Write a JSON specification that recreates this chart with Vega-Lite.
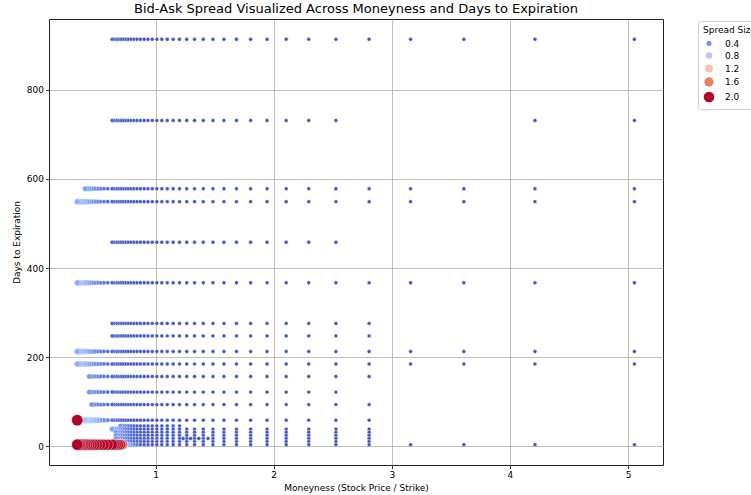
{
"$schema": "https://vega.github.io/schema/vega-lite/v6.json",
"width": 614, "height": 446,
"autosize": {"type": "none"},
"padding": {"left": 49, "top": 19, "right": 88, "bottom": 30},
"background": "white",
"config": {"font": "DejaVu Sans", "view": {"stroke": "#222222", "strokeWidth": 1}},
"title": {"text": "Bid-Ask Spread Visualized Across Moneyness and Days to Expiration", "fontSize": 13, "fontWeight": "normal", "color": "#000000", "font": "DejaVu Sans", "anchor": "middle", "frame": "group", "baseline": "bottom", "offset": 5, "dy": 15},
"data": {"values": [
{"d":913,"m":5.054,"s":0.05},{"d":913,"m":4.212,"s":0.05},{"d":913,"m":3.61,"s":0.05},{"d":913,"m":3.159,"s":0.05},{"d":913,"m":2.808,"s":0.05},{"d":913,"m":2.527,"s":0.05},{"d":913,"m":2.297,"s":0.05},{"d":913,"m":2.106,"s":0.05},{"d":913,"m":1.944,"s":0.05},{"d":913,"m":1.805,"s":0.05},{"d":913,"m":1.685,"s":0.05},{"d":913,"m":1.579,"s":0.05},{"d":913,"m":1.486,"s":0.05},{"d":913,"m":1.404,"s":0.05},{"d":913,"m":1.33,"s":0.05},{"d":913,"m":1.264,"s":0.05},{"d":913,"m":1.203,"s":0.05},{"d":913,"m":1.149,"s":0.05},{"d":913,"m":1.099,"s":0.05},{"d":913,"m":1.053,"s":0.05},{"d":913,"m":1.011,"s":0.05},{"d":913,"m":0.972,"s":0.05},{"d":913,"m":0.936,"s":0.05},{"d":913,"m":0.903,"s":0.05},{"d":913,"m":0.871,"s":0.05},{"d":913,"m":0.842,"s":0.05},{"d":913,"m":0.815,"s":0.05},{"d":913,"m":0.79,"s":0.05},{"d":913,"m":0.766,"s":0.05},{"d":913,"m":0.743,"s":0.05},{"d":913,"m":0.722,"s":0.05},{"d":913,"m":0.702,"s":0.05},{"d":913,"m":0.683,"s":0.05},{"d":913,"m":0.665,"s":0.05},{"d":913,"m":0.648,"s":0.1},{"d":913,"m":0.632,"s":0.1},
{"d":731,"m":5.054,"s":0.05},{"d":731,"m":4.212,"s":0.05},{"d":731,"m":2.527,"s":0.05},{"d":731,"m":2.297,"s":0.05},{"d":731,"m":2.106,"s":0.05},{"d":731,"m":1.944,"s":0.05},{"d":731,"m":1.805,"s":0.05},{"d":731,"m":1.685,"s":0.05},{"d":731,"m":1.579,"s":0.05},{"d":731,"m":1.486,"s":0.05},{"d":731,"m":1.404,"s":0.05},{"d":731,"m":1.33,"s":0.05},{"d":731,"m":1.264,"s":0.05},{"d":731,"m":1.203,"s":0.05},{"d":731,"m":1.149,"s":0.05},{"d":731,"m":1.099,"s":0.05},{"d":731,"m":1.053,"s":0.05},{"d":731,"m":1.011,"s":0.05},{"d":731,"m":0.972,"s":0.05},{"d":731,"m":0.936,"s":0.05},{"d":731,"m":0.903,"s":0.05},{"d":731,"m":0.871,"s":0.05},{"d":731,"m":0.842,"s":0.05},{"d":731,"m":0.815,"s":0.05},{"d":731,"m":0.79,"s":0.05},{"d":731,"m":0.766,"s":0.05},{"d":731,"m":0.743,"s":0.05},{"d":731,"m":0.722,"s":0.05},{"d":731,"m":0.702,"s":0.05},{"d":731,"m":0.683,"s":0.05},{"d":731,"m":0.665,"s":0.05},{"d":731,"m":0.648,"s":0.1},{"d":731,"m":0.632,"s":0.1},
{"d":578,"m":5.054,"s":0.05},{"d":578,"m":4.212,"s":0.05},{"d":578,"m":3.61,"s":0.05},{"d":578,"m":3.159,"s":0.05},{"d":578,"m":2.808,"s":0.05},{"d":578,"m":2.527,"s":0.05},{"d":578,"m":2.297,"s":0.05},{"d":578,"m":2.106,"s":0.05},{"d":578,"m":1.944,"s":0.05},{"d":578,"m":1.805,"s":0.05},{"d":578,"m":1.685,"s":0.05},{"d":578,"m":1.579,"s":0.05},{"d":578,"m":1.486,"s":0.05},{"d":578,"m":1.404,"s":0.05},{"d":578,"m":1.33,"s":0.05},{"d":578,"m":1.264,"s":0.05},{"d":578,"m":1.203,"s":0.05},{"d":578,"m":1.149,"s":0.05},{"d":578,"m":1.099,"s":0.05},{"d":578,"m":1.053,"s":0.05},{"d":578,"m":1.011,"s":0.05},{"d":578,"m":0.972,"s":0.05},{"d":578,"m":0.936,"s":0.05},{"d":578,"m":0.903,"s":0.05},{"d":578,"m":0.871,"s":0.05},{"d":578,"m":0.842,"s":0.05},{"d":578,"m":0.815,"s":0.05},{"d":578,"m":0.79,"s":0.05},{"d":578,"m":0.766,"s":0.05},{"d":578,"m":0.743,"s":0.05},{"d":578,"m":0.722,"s":0.05},{"d":578,"m":0.702,"s":0.05},{"d":578,"m":0.683,"s":0.05},{"d":578,"m":0.665,"s":0.05},{"d":578,"m":0.648,"s":0.1},{"d":578,"m":0.632,"s":0.1},{"d":578,"m":0.595,"s":0.15},{"d":578,"m":0.562,"s":0.2},{"d":578,"m":0.532,"s":0.25},{"d":578,"m":0.505,"s":0.3},{"d":578,"m":0.481,"s":0.35},{"d":578,"m":0.459,"s":0.4},{"d":578,"m":0.439,"s":0.45},{"d":578,"m":0.421,"s":0.5},{"d":578,"m":0.404,"s":0.5},
{"d":549,"m":5.054,"s":0.05},{"d":549,"m":4.212,"s":0.05},{"d":549,"m":3.61,"s":0.05},{"d":549,"m":3.159,"s":0.05},{"d":549,"m":2.808,"s":0.05},{"d":549,"m":2.527,"s":0.05},{"d":549,"m":2.297,"s":0.05},{"d":549,"m":2.106,"s":0.05},{"d":549,"m":1.944,"s":0.05},{"d":549,"m":1.805,"s":0.05},{"d":549,"m":1.685,"s":0.05},{"d":549,"m":1.579,"s":0.05},{"d":549,"m":1.486,"s":0.05},{"d":549,"m":1.404,"s":0.05},{"d":549,"m":1.33,"s":0.05},{"d":549,"m":1.264,"s":0.05},{"d":549,"m":1.203,"s":0.05},{"d":549,"m":1.149,"s":0.05},{"d":549,"m":1.099,"s":0.05},{"d":549,"m":1.053,"s":0.05},{"d":549,"m":1.011,"s":0.05},{"d":549,"m":0.972,"s":0.05},{"d":549,"m":0.936,"s":0.05},{"d":549,"m":0.903,"s":0.05},{"d":549,"m":0.871,"s":0.05},{"d":549,"m":0.842,"s":0.05},{"d":549,"m":0.815,"s":0.05},{"d":549,"m":0.79,"s":0.05},{"d":549,"m":0.766,"s":0.05},{"d":549,"m":0.743,"s":0.05},{"d":549,"m":0.722,"s":0.05},{"d":549,"m":0.702,"s":0.05},{"d":549,"m":0.683,"s":0.05},{"d":549,"m":0.665,"s":0.05},{"d":549,"m":0.648,"s":0.1},{"d":549,"m":0.632,"s":0.1},{"d":549,"m":0.595,"s":0.15},{"d":549,"m":0.562,"s":0.2},{"d":549,"m":0.532,"s":0.25},{"d":549,"m":0.505,"s":0.3},{"d":549,"m":0.481,"s":0.35},{"d":549,"m":0.459,"s":0.4},{"d":549,"m":0.439,"s":0.45},{"d":549,"m":0.421,"s":0.5},{"d":549,"m":0.404,"s":0.5},{"d":549,"m":0.389,"s":0.55},{"d":549,"m":0.374,"s":0.55},{"d":549,"m":0.361,"s":0.6},{"d":549,"m":0.349,"s":0.6},{"d":549,"m":0.337,"s":0.6},
{"d":458,"m":2.527,"s":0.05},{"d":458,"m":2.297,"s":0.05},{"d":458,"m":2.106,"s":0.05},{"d":458,"m":1.944,"s":0.05},{"d":458,"m":1.805,"s":0.05},{"d":458,"m":1.685,"s":0.05},{"d":458,"m":1.579,"s":0.05},{"d":458,"m":1.486,"s":0.05},{"d":458,"m":1.404,"s":0.05},{"d":458,"m":1.33,"s":0.05},{"d":458,"m":1.264,"s":0.05},{"d":458,"m":1.203,"s":0.05},{"d":458,"m":1.149,"s":0.05},{"d":458,"m":1.099,"s":0.05},{"d":458,"m":1.053,"s":0.05},{"d":458,"m":1.011,"s":0.05},{"d":458,"m":0.972,"s":0.05},{"d":458,"m":0.936,"s":0.05},{"d":458,"m":0.903,"s":0.05},{"d":458,"m":0.871,"s":0.05},{"d":458,"m":0.842,"s":0.05},{"d":458,"m":0.815,"s":0.05},{"d":458,"m":0.79,"s":0.05},{"d":458,"m":0.766,"s":0.05},{"d":458,"m":0.743,"s":0.05},{"d":458,"m":0.722,"s":0.05},{"d":458,"m":0.702,"s":0.05},{"d":458,"m":0.683,"s":0.05},{"d":458,"m":0.665,"s":0.05},{"d":458,"m":0.648,"s":0.1},{"d":458,"m":0.632,"s":0.1},
{"d":367,"m":5.054,"s":0.05},{"d":367,"m":4.212,"s":0.05},{"d":367,"m":3.61,"s":0.05},{"d":367,"m":3.159,"s":0.05},{"d":367,"m":2.808,"s":0.05},{"d":367,"m":2.527,"s":0.05},{"d":367,"m":2.297,"s":0.05},{"d":367,"m":2.106,"s":0.05},{"d":367,"m":1.944,"s":0.05},{"d":367,"m":1.805,"s":0.05},{"d":367,"m":1.685,"s":0.05},{"d":367,"m":1.579,"s":0.05},{"d":367,"m":1.486,"s":0.05},{"d":367,"m":1.404,"s":0.05},{"d":367,"m":1.33,"s":0.05},{"d":367,"m":1.264,"s":0.05},{"d":367,"m":1.203,"s":0.05},{"d":367,"m":1.149,"s":0.05},{"d":367,"m":1.099,"s":0.05},{"d":367,"m":1.053,"s":0.05},{"d":367,"m":1.011,"s":0.05},{"d":367,"m":0.972,"s":0.05},{"d":367,"m":0.936,"s":0.05},{"d":367,"m":0.903,"s":0.05},{"d":367,"m":0.871,"s":0.05},{"d":367,"m":0.842,"s":0.05},{"d":367,"m":0.815,"s":0.05},{"d":367,"m":0.79,"s":0.05},{"d":367,"m":0.766,"s":0.05},{"d":367,"m":0.743,"s":0.05},{"d":367,"m":0.722,"s":0.05},{"d":367,"m":0.702,"s":0.05},{"d":367,"m":0.683,"s":0.05},{"d":367,"m":0.665,"s":0.05},{"d":367,"m":0.648,"s":0.1},{"d":367,"m":0.632,"s":0.1},{"d":367,"m":0.595,"s":0.15},{"d":367,"m":0.562,"s":0.2},{"d":367,"m":0.532,"s":0.25},{"d":367,"m":0.505,"s":0.3},{"d":367,"m":0.481,"s":0.35},{"d":367,"m":0.459,"s":0.4},{"d":367,"m":0.439,"s":0.45},{"d":367,"m":0.421,"s":0.5},{"d":367,"m":0.404,"s":0.5},{"d":367,"m":0.389,"s":0.55},{"d":367,"m":0.374,"s":0.55},{"d":367,"m":0.361,"s":0.6},{"d":367,"m":0.349,"s":0.6},{"d":367,"m":0.337,"s":0.6},
{"d":276,"m":2.808,"s":0.05},{"d":276,"m":2.527,"s":0.05},{"d":276,"m":2.297,"s":0.05},{"d":276,"m":2.106,"s":0.05},{"d":276,"m":1.944,"s":0.05},{"d":276,"m":1.805,"s":0.05},{"d":276,"m":1.685,"s":0.05},{"d":276,"m":1.579,"s":0.05},{"d":276,"m":1.486,"s":0.05},{"d":276,"m":1.404,"s":0.05},{"d":276,"m":1.33,"s":0.05},{"d":276,"m":1.264,"s":0.05},{"d":276,"m":1.203,"s":0.05},{"d":276,"m":1.149,"s":0.05},{"d":276,"m":1.099,"s":0.05},{"d":276,"m":1.053,"s":0.05},{"d":276,"m":1.011,"s":0.05},{"d":276,"m":0.972,"s":0.05},{"d":276,"m":0.936,"s":0.05},{"d":276,"m":0.903,"s":0.05},{"d":276,"m":0.871,"s":0.05},{"d":276,"m":0.842,"s":0.05},{"d":276,"m":0.815,"s":0.05},{"d":276,"m":0.79,"s":0.05},{"d":276,"m":0.766,"s":0.05},{"d":276,"m":0.743,"s":0.05},{"d":276,"m":0.722,"s":0.05},{"d":276,"m":0.702,"s":0.05},{"d":276,"m":0.683,"s":0.05},{"d":276,"m":0.665,"s":0.05},{"d":276,"m":0.648,"s":0.1},{"d":276,"m":0.632,"s":0.1},
{"d":248,"m":2.808,"s":0.05},{"d":248,"m":2.527,"s":0.05},{"d":248,"m":2.297,"s":0.05},{"d":248,"m":2.106,"s":0.05},{"d":248,"m":1.944,"s":0.05},{"d":248,"m":1.805,"s":0.05},{"d":248,"m":1.685,"s":0.05},{"d":248,"m":1.579,"s":0.05},{"d":248,"m":1.486,"s":0.05},{"d":248,"m":1.404,"s":0.05},{"d":248,"m":1.33,"s":0.05},{"d":248,"m":1.264,"s":0.05},{"d":248,"m":1.203,"s":0.05},{"d":248,"m":1.149,"s":0.05},{"d":248,"m":1.099,"s":0.05},{"d":248,"m":1.053,"s":0.05},{"d":248,"m":1.011,"s":0.05},{"d":248,"m":0.972,"s":0.05},{"d":248,"m":0.936,"s":0.05},{"d":248,"m":0.903,"s":0.05},{"d":248,"m":0.871,"s":0.05},{"d":248,"m":0.842,"s":0.05},{"d":248,"m":0.815,"s":0.05},{"d":248,"m":0.79,"s":0.05},{"d":248,"m":0.766,"s":0.05},{"d":248,"m":0.743,"s":0.05},{"d":248,"m":0.722,"s":0.05},{"d":248,"m":0.702,"s":0.05},{"d":248,"m":0.683,"s":0.05},{"d":248,"m":0.665,"s":0.05},{"d":248,"m":0.648,"s":0.1},{"d":248,"m":0.632,"s":0.1},
{"d":213,"m":5.054,"s":0.05},{"d":213,"m":4.212,"s":0.05},{"d":213,"m":3.61,"s":0.05},{"d":213,"m":3.159,"s":0.05},{"d":213,"m":2.808,"s":0.05},{"d":213,"m":2.527,"s":0.05},{"d":213,"m":2.297,"s":0.05},{"d":213,"m":2.106,"s":0.05},{"d":213,"m":1.944,"s":0.05},{"d":213,"m":1.805,"s":0.05},{"d":213,"m":1.685,"s":0.05},{"d":213,"m":1.579,"s":0.05},{"d":213,"m":1.486,"s":0.05},{"d":213,"m":1.404,"s":0.05},{"d":213,"m":1.33,"s":0.05},{"d":213,"m":1.264,"s":0.05},{"d":213,"m":1.203,"s":0.05},{"d":213,"m":1.149,"s":0.05},{"d":213,"m":1.099,"s":0.05},{"d":213,"m":1.053,"s":0.05},{"d":213,"m":1.011,"s":0.05},{"d":213,"m":0.972,"s":0.05},{"d":213,"m":0.936,"s":0.05},{"d":213,"m":0.903,"s":0.05},{"d":213,"m":0.871,"s":0.05},{"d":213,"m":0.842,"s":0.05},{"d":213,"m":0.815,"s":0.05},{"d":213,"m":0.79,"s":0.05},{"d":213,"m":0.766,"s":0.05},{"d":213,"m":0.743,"s":0.05},{"d":213,"m":0.722,"s":0.05},{"d":213,"m":0.702,"s":0.05},{"d":213,"m":0.683,"s":0.05},{"d":213,"m":0.665,"s":0.05},{"d":213,"m":0.648,"s":0.1},{"d":213,"m":0.632,"s":0.1},{"d":213,"m":0.595,"s":0.15},{"d":213,"m":0.562,"s":0.2},{"d":213,"m":0.532,"s":0.25},{"d":213,"m":0.505,"s":0.3},{"d":213,"m":0.481,"s":0.35},{"d":213,"m":0.459,"s":0.4},{"d":213,"m":0.439,"s":0.45},{"d":213,"m":0.421,"s":0.5},{"d":213,"m":0.404,"s":0.5},{"d":213,"m":0.389,"s":0.55},{"d":213,"m":0.374,"s":0.55},{"d":213,"m":0.361,"s":0.6},{"d":213,"m":0.349,"s":0.6},{"d":213,"m":0.337,"s":0.6},
{"d":185,"m":5.054,"s":0.05},{"d":185,"m":4.212,"s":0.05},{"d":185,"m":3.61,"s":0.05},{"d":185,"m":3.159,"s":0.05},{"d":185,"m":2.808,"s":0.05},{"d":185,"m":2.527,"s":0.05},{"d":185,"m":2.297,"s":0.05},{"d":185,"m":2.106,"s":0.05},{"d":185,"m":1.944,"s":0.05},{"d":185,"m":1.805,"s":0.05},{"d":185,"m":1.685,"s":0.05},{"d":185,"m":1.579,"s":0.05},{"d":185,"m":1.486,"s":0.05},{"d":185,"m":1.404,"s":0.05},{"d":185,"m":1.33,"s":0.05},{"d":185,"m":1.264,"s":0.05},{"d":185,"m":1.203,"s":0.05},{"d":185,"m":1.149,"s":0.05},{"d":185,"m":1.099,"s":0.05},{"d":185,"m":1.053,"s":0.05},{"d":185,"m":1.011,"s":0.05},{"d":185,"m":0.972,"s":0.05},{"d":185,"m":0.936,"s":0.05},{"d":185,"m":0.903,"s":0.05},{"d":185,"m":0.871,"s":0.05},{"d":185,"m":0.842,"s":0.05},{"d":185,"m":0.815,"s":0.05},{"d":185,"m":0.79,"s":0.05},{"d":185,"m":0.766,"s":0.05},{"d":185,"m":0.743,"s":0.05},{"d":185,"m":0.722,"s":0.05},{"d":185,"m":0.702,"s":0.05},{"d":185,"m":0.683,"s":0.05},{"d":185,"m":0.665,"s":0.05},{"d":185,"m":0.648,"s":0.1},{"d":185,"m":0.632,"s":0.1},{"d":185,"m":0.595,"s":0.15},{"d":185,"m":0.562,"s":0.2},{"d":185,"m":0.532,"s":0.25},{"d":185,"m":0.505,"s":0.3},{"d":185,"m":0.481,"s":0.35},{"d":185,"m":0.459,"s":0.4},{"d":185,"m":0.439,"s":0.45},{"d":185,"m":0.421,"s":0.5},{"d":185,"m":0.404,"s":0.5},{"d":185,"m":0.389,"s":0.55},{"d":185,"m":0.374,"s":0.55},{"d":185,"m":0.361,"s":0.6},{"d":185,"m":0.349,"s":0.6},{"d":185,"m":0.337,"s":0.6},
{"d":157,"m":2.808,"s":0.05},{"d":157,"m":2.527,"s":0.05},{"d":157,"m":2.297,"s":0.05},{"d":157,"m":2.106,"s":0.05},{"d":157,"m":1.944,"s":0.05},{"d":157,"m":1.805,"s":0.05},{"d":157,"m":1.685,"s":0.05},{"d":157,"m":1.579,"s":0.05},{"d":157,"m":1.486,"s":0.05},{"d":157,"m":1.404,"s":0.05},{"d":157,"m":1.33,"s":0.05},{"d":157,"m":1.264,"s":0.05},{"d":157,"m":1.203,"s":0.05},{"d":157,"m":1.149,"s":0.05},{"d":157,"m":1.099,"s":0.05},{"d":157,"m":1.053,"s":0.05},{"d":157,"m":1.011,"s":0.05},{"d":157,"m":0.972,"s":0.05},{"d":157,"m":0.936,"s":0.05},{"d":157,"m":0.903,"s":0.05},{"d":157,"m":0.871,"s":0.05},{"d":157,"m":0.842,"s":0.05},{"d":157,"m":0.815,"s":0.05},{"d":157,"m":0.79,"s":0.05},{"d":157,"m":0.766,"s":0.05},{"d":157,"m":0.743,"s":0.05},{"d":157,"m":0.722,"s":0.05},{"d":157,"m":0.702,"s":0.05},{"d":157,"m":0.683,"s":0.05},{"d":157,"m":0.665,"s":0.05},{"d":157,"m":0.648,"s":0.1},{"d":157,"m":0.632,"s":0.1},{"d":157,"m":0.595,"s":0.15},{"d":157,"m":0.562,"s":0.2},{"d":157,"m":0.532,"s":0.25},{"d":157,"m":0.505,"s":0.3},{"d":157,"m":0.481,"s":0.35},{"d":157,"m":0.459,"s":0.4},{"d":157,"m":0.439,"s":0.45},
{"d":122,"m":2.527,"s":0.05},{"d":122,"m":2.297,"s":0.05},{"d":122,"m":2.106,"s":0.05},{"d":122,"m":1.944,"s":0.05},{"d":122,"m":1.805,"s":0.05},{"d":122,"m":1.685,"s":0.05},{"d":122,"m":1.579,"s":0.05},{"d":122,"m":1.486,"s":0.05},{"d":122,"m":1.404,"s":0.05},{"d":122,"m":1.33,"s":0.05},{"d":122,"m":1.264,"s":0.05},{"d":122,"m":1.203,"s":0.05},{"d":122,"m":1.149,"s":0.05},{"d":122,"m":1.099,"s":0.05},{"d":122,"m":1.053,"s":0.05},{"d":122,"m":1.011,"s":0.05},{"d":122,"m":0.972,"s":0.05},{"d":122,"m":0.936,"s":0.05},{"d":122,"m":0.903,"s":0.05},{"d":122,"m":0.871,"s":0.05},{"d":122,"m":0.842,"s":0.05},{"d":122,"m":0.815,"s":0.05},{"d":122,"m":0.79,"s":0.05},{"d":122,"m":0.766,"s":0.05},{"d":122,"m":0.743,"s":0.05},{"d":122,"m":0.722,"s":0.05},{"d":122,"m":0.702,"s":0.05},{"d":122,"m":0.683,"s":0.05},{"d":122,"m":0.665,"s":0.05},{"d":122,"m":0.648,"s":0.1},{"d":122,"m":0.632,"s":0.1},{"d":122,"m":0.595,"s":0.15},{"d":122,"m":0.562,"s":0.2},{"d":122,"m":0.532,"s":0.25},{"d":122,"m":0.505,"s":0.3},{"d":122,"m":0.481,"s":0.35},{"d":122,"m":0.459,"s":0.4},{"d":122,"m":0.439,"s":0.45},
{"d":94,"m":2.808,"s":0.05},{"d":94,"m":2.527,"s":0.05},{"d":94,"m":2.297,"s":0.05},{"d":94,"m":2.106,"s":0.05},{"d":94,"m":1.944,"s":0.05},{"d":94,"m":1.805,"s":0.05},{"d":94,"m":1.685,"s":0.05},{"d":94,"m":1.579,"s":0.05},{"d":94,"m":1.486,"s":0.05},{"d":94,"m":1.404,"s":0.05},{"d":94,"m":1.33,"s":0.05},{"d":94,"m":1.264,"s":0.05},{"d":94,"m":1.203,"s":0.05},{"d":94,"m":1.149,"s":0.05},{"d":94,"m":1.099,"s":0.05},{"d":94,"m":1.053,"s":0.05},{"d":94,"m":1.011,"s":0.05},{"d":94,"m":0.972,"s":0.05},{"d":94,"m":0.936,"s":0.05},{"d":94,"m":0.903,"s":0.05},{"d":94,"m":0.871,"s":0.05},{"d":94,"m":0.842,"s":0.05},{"d":94,"m":0.815,"s":0.05},{"d":94,"m":0.79,"s":0.05},{"d":94,"m":0.766,"s":0.05},{"d":94,"m":0.743,"s":0.05},{"d":94,"m":0.722,"s":0.05},{"d":94,"m":0.702,"s":0.05},{"d":94,"m":0.683,"s":0.05},{"d":94,"m":0.665,"s":0.05},{"d":94,"m":0.648,"s":0.1},{"d":94,"m":0.632,"s":0.1},{"d":94,"m":0.595,"s":0.15},{"d":94,"m":0.562,"s":0.2},{"d":94,"m":0.532,"s":0.25},{"d":94,"m":0.505,"s":0.3},{"d":94,"m":0.481,"s":0.35},{"d":94,"m":0.459,"s":0.4},
{"d":59,"m":2.808,"s":0.05},{"d":59,"m":2.527,"s":0.05},{"d":59,"m":2.297,"s":0.05},{"d":59,"m":2.106,"s":0.05},{"d":59,"m":1.944,"s":0.05},{"d":59,"m":1.805,"s":0.05},{"d":59,"m":1.685,"s":0.05},{"d":59,"m":1.579,"s":0.05},{"d":59,"m":1.486,"s":0.05},{"d":59,"m":1.404,"s":0.05},{"d":59,"m":1.33,"s":0.05},{"d":59,"m":1.264,"s":0.05},{"d":59,"m":1.203,"s":0.05},{"d":59,"m":1.149,"s":0.05},{"d":59,"m":1.099,"s":0.05},{"d":59,"m":1.053,"s":0.05},{"d":59,"m":1.011,"s":0.05},{"d":59,"m":0.972,"s":0.05},{"d":59,"m":0.936,"s":0.05},{"d":59,"m":0.903,"s":0.05},{"d":59,"m":0.871,"s":0.05},{"d":59,"m":0.842,"s":0.05},{"d":59,"m":0.815,"s":0.05},{"d":59,"m":0.79,"s":0.05},{"d":59,"m":0.766,"s":0.05},{"d":59,"m":0.743,"s":0.05},{"d":59,"m":0.722,"s":0.05},{"d":59,"m":0.702,"s":0.05},{"d":59,"m":0.683,"s":0.05},{"d":59,"m":0.665,"s":0.1},{"d":59,"m":0.648,"s":0.15},{"d":59,"m":0.632,"s":0.2},{"d":59,"m":0.595,"s":0.3},{"d":59,"m":0.562,"s":0.4},{"d":59,"m":0.532,"s":0.5},{"d":59,"m":0.505,"s":0.6},{"d":59,"m":0.481,"s":0.65},{"d":59,"m":0.459,"s":0.7},{"d":59,"m":0.439,"s":0.7},{"d":59,"m":0.421,"s":0.75},{"d":59,"m":0.404,"s":0.75},{"d":59,"m":0.337,"s":2.2},
{"d":46,"m":1.203,"s":0.05},{"d":46,"m":1.149,"s":0.05},{"d":46,"m":1.099,"s":0.05},{"d":46,"m":1.053,"s":0.05},{"d":46,"m":1.011,"s":0.05},{"d":46,"m":0.972,"s":0.05},{"d":46,"m":0.936,"s":0.05},{"d":46,"m":0.903,"s":0.05},{"d":46,"m":0.871,"s":0.05},{"d":46,"m":0.842,"s":0.05},{"d":46,"m":0.815,"s":0.1},{"d":46,"m":0.79,"s":0.15},{"d":46,"m":0.766,"s":0.2},{"d":46,"m":0.743,"s":0.3},{"d":46,"m":0.722,"s":0.35},{"d":46,"m":0.702,"s":0.4},
{"d":39,"m":2.808,"s":0.05},{"d":39,"m":2.527,"s":0.05},{"d":39,"m":2.297,"s":0.05},{"d":39,"m":2.106,"s":0.05},{"d":39,"m":1.944,"s":0.05},{"d":39,"m":1.805,"s":0.05},{"d":39,"m":1.685,"s":0.05},{"d":39,"m":1.579,"s":0.05},{"d":39,"m":1.486,"s":0.05},{"d":39,"m":1.404,"s":0.05},{"d":39,"m":1.33,"s":0.05},{"d":39,"m":1.264,"s":0.05},{"d":39,"m":1.203,"s":0.05},{"d":39,"m":1.149,"s":0.05},{"d":39,"m":1.099,"s":0.05},{"d":39,"m":1.053,"s":0.05},{"d":39,"m":1.011,"s":0.05},{"d":39,"m":0.972,"s":0.05},{"d":39,"m":0.936,"s":0.05},{"d":39,"m":0.903,"s":0.05},{"d":39,"m":0.871,"s":0.05},{"d":39,"m":0.842,"s":0.05},{"d":39,"m":0.815,"s":0.1},{"d":39,"m":0.79,"s":0.15},{"d":39,"m":0.766,"s":0.2},{"d":39,"m":0.743,"s":0.25},{"d":39,"m":0.722,"s":0.3},{"d":39,"m":0.702,"s":0.35},{"d":39,"m":0.683,"s":0.4},{"d":39,"m":0.665,"s":0.45},{"d":39,"m":0.648,"s":0.5},{"d":39,"m":0.632,"s":0.55},
{"d":32,"m":2.808,"s":0.05},{"d":32,"m":2.527,"s":0.05},{"d":32,"m":2.297,"s":0.05},{"d":32,"m":2.106,"s":0.05},{"d":32,"m":1.944,"s":0.05},{"d":32,"m":1.805,"s":0.05},{"d":32,"m":1.685,"s":0.05},{"d":32,"m":1.579,"s":0.05},{"d":32,"m":1.486,"s":0.05},{"d":32,"m":1.404,"s":0.05},{"d":32,"m":1.33,"s":0.05},{"d":32,"m":1.264,"s":0.05},{"d":32,"m":1.203,"s":0.05},{"d":32,"m":1.149,"s":0.05},{"d":32,"m":1.099,"s":0.05},{"d":32,"m":1.053,"s":0.05},{"d":32,"m":1.011,"s":0.05},{"d":32,"m":0.972,"s":0.05},{"d":32,"m":0.936,"s":0.05},{"d":32,"m":0.903,"s":0.05},{"d":32,"m":0.871,"s":0.05},{"d":32,"m":0.842,"s":0.05},{"d":32,"m":0.815,"s":0.1},{"d":32,"m":0.79,"s":0.15},{"d":32,"m":0.766,"s":0.2},{"d":32,"m":0.743,"s":0.25},{"d":32,"m":0.722,"s":0.3},{"d":32,"m":0.702,"s":0.35},{"d":32,"m":0.683,"s":0.4},{"d":32,"m":0.665,"s":0.45},
{"d":25,"m":2.808,"s":0.05},{"d":25,"m":2.527,"s":0.05},{"d":25,"m":2.297,"s":0.05},{"d":25,"m":2.106,"s":0.05},{"d":25,"m":1.944,"s":0.05},{"d":25,"m":1.805,"s":0.05},{"d":25,"m":1.685,"s":0.05},{"d":25,"m":1.579,"s":0.05},{"d":25,"m":1.486,"s":0.05},{"d":25,"m":1.404,"s":0.05},{"d":25,"m":1.33,"s":0.05},{"d":25,"m":1.264,"s":0.05},{"d":25,"m":1.203,"s":0.05},{"d":25,"m":1.149,"s":0.05},{"d":25,"m":1.099,"s":0.05},{"d":25,"m":1.053,"s":0.05},{"d":25,"m":1.011,"s":0.05},{"d":25,"m":0.972,"s":0.05},{"d":25,"m":0.936,"s":0.05},{"d":25,"m":0.903,"s":0.05},{"d":25,"m":0.871,"s":0.05},{"d":25,"m":0.842,"s":0.05},{"d":25,"m":0.815,"s":0.1},{"d":25,"m":0.79,"s":0.15},{"d":25,"m":0.766,"s":0.2},{"d":25,"m":0.743,"s":0.25},{"d":25,"m":0.722,"s":0.3},{"d":25,"m":0.702,"s":0.35},{"d":25,"m":0.683,"s":0.4},{"d":25,"m":0.665,"s":0.45},
{"d":18,"m":2.808,"s":0.05},{"d":18,"m":2.527,"s":0.05},{"d":18,"m":2.297,"s":0.05},{"d":18,"m":2.106,"s":0.05},{"d":18,"m":1.944,"s":0.05},{"d":18,"m":1.805,"s":0.05},{"d":18,"m":1.685,"s":0.05},{"d":18,"m":1.579,"s":0.05},{"d":18,"m":1.486,"s":0.05},{"d":18,"m":1.444,"s":0.05},{"d":18,"m":1.404,"s":0.05},{"d":18,"m":1.366,"s":0.05},{"d":18,"m":1.33,"s":0.05},{"d":18,"m":1.296,"s":0.05},{"d":18,"m":1.264,"s":0.05},{"d":18,"m":1.233,"s":0.05},{"d":18,"m":1.203,"s":0.05},{"d":18,"m":1.149,"s":0.05},{"d":18,"m":1.099,"s":0.05},{"d":18,"m":1.053,"s":0.05},{"d":18,"m":1.011,"s":0.05},{"d":18,"m":0.972,"s":0.05},{"d":18,"m":0.936,"s":0.05},{"d":18,"m":0.903,"s":0.05},{"d":18,"m":0.871,"s":0.05},{"d":18,"m":0.842,"s":0.05},{"d":18,"m":0.815,"s":0.1},{"d":18,"m":0.79,"s":0.15},{"d":18,"m":0.766,"s":0.2},{"d":18,"m":0.743,"s":0.25},{"d":18,"m":0.722,"s":0.3},{"d":18,"m":0.702,"s":0.35},{"d":18,"m":0.683,"s":0.4},{"d":18,"m":0.665,"s":0.45},
{"d":11,"m":2.808,"s":0.05},{"d":11,"m":2.527,"s":0.05},{"d":11,"m":2.297,"s":0.05},{"d":11,"m":2.106,"s":0.05},{"d":11,"m":1.944,"s":0.05},{"d":11,"m":1.805,"s":0.05},{"d":11,"m":1.685,"s":0.05},{"d":11,"m":1.579,"s":0.05},{"d":11,"m":1.486,"s":0.05},{"d":11,"m":1.404,"s":0.05},{"d":11,"m":1.33,"s":0.05},{"d":11,"m":1.264,"s":0.05},{"d":11,"m":1.203,"s":0.05},{"d":11,"m":1.149,"s":0.05},{"d":11,"m":1.099,"s":0.05},{"d":11,"m":1.053,"s":0.05},{"d":11,"m":1.011,"s":0.05},{"d":11,"m":0.972,"s":0.05},{"d":11,"m":0.936,"s":0.05},{"d":11,"m":0.903,"s":0.05},{"d":11,"m":0.871,"s":0.05},{"d":11,"m":0.842,"s":0.05},{"d":11,"m":0.815,"s":0.1},{"d":11,"m":0.79,"s":0.15},{"d":11,"m":0.766,"s":0.2},{"d":11,"m":0.743,"s":0.25},{"d":11,"m":0.722,"s":0.3},{"d":11,"m":0.702,"s":0.35},{"d":11,"m":0.683,"s":0.4},
{"d":4,"m":5.054,"s":0.05},{"d":4,"m":4.212,"s":0.05},{"d":4,"m":3.61,"s":0.05},{"d":4,"m":3.159,"s":0.05},{"d":4,"m":2.808,"s":0.05},{"d":4,"m":2.527,"s":0.05},{"d":4,"m":2.297,"s":0.05},{"d":4,"m":2.106,"s":0.05},{"d":4,"m":1.944,"s":0.05},{"d":4,"m":1.805,"s":0.05},{"d":4,"m":1.685,"s":0.05},{"d":4,"m":1.579,"s":0.05},{"d":4,"m":1.486,"s":0.05},{"d":4,"m":1.404,"s":0.05},{"d":4,"m":1.33,"s":0.05},{"d":4,"m":1.264,"s":0.05},{"d":4,"m":1.203,"s":0.05},{"d":4,"m":1.149,"s":0.05},{"d":4,"m":1.099,"s":0.05},{"d":4,"m":1.053,"s":0.05},{"d":4,"m":1.011,"s":0.05},{"d":4,"m":0.972,"s":0.05},{"d":4,"m":0.936,"s":0.05},{"d":4,"m":0.903,"s":0.05},{"d":4,"m":0.871,"s":0.1},{"d":4,"m":0.842,"s":0.2},{"d":4,"m":0.815,"s":0.3},{"d":4,"m":0.79,"s":0.45},{"d":4,"m":0.766,"s":0.6},{"d":4,"m":0.743,"s":0.7},{"d":4,"m":0.722,"s":1.7},{"d":4,"m":0.702,"s":1.95},{"d":4,"m":0.683,"s":2.0},{"d":4,"m":0.665,"s":2.0},{"d":4,"m":0.648,"s":2.05},{"d":4,"m":0.632,"s":2.05},{"d":4,"m":0.595,"s":2.1},{"d":4,"m":0.562,"s":2.1},{"d":4,"m":0.532,"s":2.1},{"d":4,"m":0.505,"s":2.1},{"d":4,"m":0.481,"s":2.15},{"d":4,"m":0.459,"s":2.15},{"d":4,"m":0.439,"s":2.15},{"d":4,"m":0.421,"s":2.15},{"d":4,"m":0.404,"s":2.2},{"d":4,"m":0.389,"s":2.2},{"d":4,"m":0.374,"s":2.2},{"d":4,"m":0.361,"s":2.2},{"d":4,"m":0.349,"s":2.2},{"d":4,"m":0.337,"s":2.2}
]},
"mark": {"type": "circle", "opacity": 1, "stroke": "white", "strokeWidth": 0.4},
"encoding": {
"x": {"field": "m", "type": "quantitative", "scale": {"domain": [0.098, 5.296], "nice": false, "zero": false},
 "axis": {"title": "Moneyness (Stock Price / Strike)", "values": [1, 2, 3, 4, 5], "format": "d", "grid": true, "gridColor": "#b0b0b0", "gridWidth": 0.8, "domain": false, "ticks": true, "tickColor": "black", "tickSize": 3.5, "tickWidth": 0.8, "labelFont": "DejaVu Sans", "labelFontSize": 9, "labelColor": "black", "labelPadding": 2, "titleFont": "DejaVu Sans", "titleFontSize": 9, "titleFontWeight": "normal", "titleColor": "black", "titlePadding": 4}},
"y": {"field": "d", "type": "quantitative", "scale": {"domain": [-41.5, 958.5], "nice": false, "zero": false},
 "axis": {"title": "Days to Expiration", "values": [0, 200, 400, 600, 800], "format": "d", "grid": true, "gridColor": "#b0b0b0", "gridWidth": 0.8, "domain": false, "ticks": true, "tickColor": "black", "tickSize": 3.5, "tickWidth": 0.8, "labelFont": "DejaVu Sans", "labelFontSize": 9, "labelColor": "black", "labelPadding": 2, "titleFont": "DejaVu Sans", "titleFontSize": 9, "titleFontWeight": "normal", "titleColor": "black", "titlePadding": 5}},
"color": {"field": "s", "type": "quantitative",
 "scale": {"domain": [0, 0.25, 0.5, 0.75, 1.0, 1.25, 1.5, 1.75, 2.0], "range": ["#3b4cc0", "#5b7ae5", "#7b9ff9", "#a3c2fe", "#dddcdc", "#f5c0a7", "#f49a7b", "#d65244", "#b40426"], "clamp": true},
 "legend": {"title": "Spread Size", "type": "symbol", "orient": "none", "legendX": 649, "legendY": 2, "values": [0.4, 0.8, 1.2, 1.6, 2.0], "format": ".1f", "titleFont": "DejaVu Sans", "titleFontSize": 9, "titleFontWeight": "normal", "titleColor": "black", "labelFont": "DejaVu Sans", "labelFontSize": 9, "labelColor": "black", "symbolType": "circle", "symbolStrokeColor": "white", "symbolStrokeWidth": 0.5, "symbolOpacity": 1, "strokeColor": "#d0d0d0", "fillColor": "white", "padding": 5, "cornerRadius": 3, "rowPadding": 2, "labelOffset": 10, "titlePadding": 4}},
"size": {"field": "s", "type": "quantitative",
 "scale": {"domain": [0, 0.25, 0.5, 0.75, 1.0, 1.25, 1.5, 1.75, 2.0], "range": [14, 19, 29, 41, 54, 67, 80, 95, 113]},
 "legend": {"title": "Spread Size", "type": "symbol", "orient": "none", "legendX": 649, "legendY": 2, "values": [0.4, 0.8, 1.2, 1.6, 2.0], "format": ".1f", "titleFont": "DejaVu Sans", "titleFontSize": 9, "titleFontWeight": "normal", "titleColor": "black", "labelFont": "DejaVu Sans", "labelFontSize": 9, "labelColor": "black", "symbolType": "circle", "symbolStrokeColor": "white", "symbolStrokeWidth": 0.5, "symbolOpacity": 1, "strokeColor": "#d0d0d0", "fillColor": "white", "padding": 5, "cornerRadius": 3, "rowPadding": 2, "labelOffset": 10, "titlePadding": 4}}
}
}
